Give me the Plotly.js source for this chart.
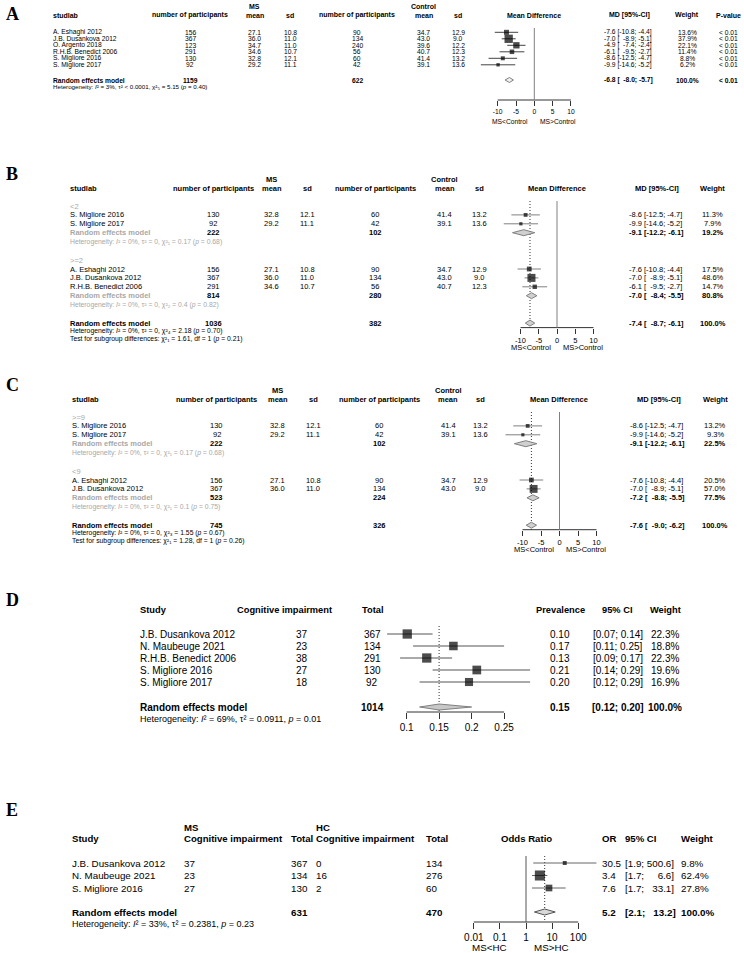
<!DOCTYPE html>
<html><head><meta charset="utf-8">
<script src="https://cdn.plot.ly/plotly-3.0.1.min.js"></script>
<style>html,body{margin:0;padding:0;background:#fff;}#chart{width:744px;height:953px;}</style>
</head><body><div id="chart"></div>
<script>
// ================= DATA =================
// ---- Panel A ----
const aStudy = ["A. Eshaghi 2012","J.B. Dusankova 2012","O. Argento 2018","R.H.B. Benedict 2006","S. Migliore 2016","S. Migliore 2017"];
const aMsN = [156,367,123,291,130,92];
const aMsMean = [27.1,36.0,34.7,34.6,32.8,29.2];
const aMsSd = [10.8,11.0,11.0,10.7,12.1,11.1];
const aCtN = [90,134,240,56,60,42];
const aCtMean = [34.7,43.0,39.6,40.7,41.4,39.1];
const aCtSd = [12.9,9.0,12.2,12.3,13.2,13.6];
const aMd = [-7.6,-7.0,-4.9,-6.1,-8.6,-9.9];
const aLo = [-10.8,-8.9,-7.4,-9.5,-12.5,-14.6];
const aHi = [-4.4,-5.1,-2.4,-2.7,-4.7,-5.2];
const aWeight = [13.6,37.9,22.1,11.4,8.8,6.2];
const aPval = ["< 0.01","< 0.01","< 0.01","< 0.01","< 0.01","< 0.01"];
const aPoolN = [1159,622];
const aPool = [-6.8,-8.0,-5.7];
const aPoolW = 100.0;
const aPoolP = "< 0.01";
const aHet = "Heterogeneity: <i>I</i>² = 3%, τ² &lt; 0.0001, χ²₅ = 5.15 (<i>p</i> = 0.40)";

// ---- Panel B ----
const bGroup = ["<2", ">=2"];
const b1Study = ["S. Migliore 2016","S. Migliore 2017"];
const b1MsN = [130,92], b1MsMean = [32.8,29.2], b1MsSd = [12.1,11.1];
const b1CtN = [60,42], b1CtMean = [41.4,39.1], b1CtSd = [13.2,13.6];
const b1Md = [-8.6,-9.9], b1Lo = [-12.5,-14.6], b1Hi = [-4.7,-5.2], b1Weight = [11.3,7.9];
const b1PoolN = [222,102], b1Pool = [-9.1,-12.2,-6.1], b1PoolW = 19.2;
const b1Het = "Heterogeneity: <i>I</i>² = 0%, τ² = 0, χ²₁ = 0.17 (<i>p</i> = 0.68)";
const b2Study = ["A. Eshaghi 2012","J.B. Dusankova 2012","R.H.B. Benedict 2006"];
const b2MsN = [156,367,291], b2MsMean = [27.1,36.0,34.6], b2MsSd = [10.8,11.0,10.7];
const b2CtN = [90,134,56], b2CtMean = [34.7,43.0,40.7], b2CtSd = [12.9,9.0,12.3];
const b2Md = [-7.6,-7.0,-6.1], b2Lo = [-10.8,-8.9,-9.5], b2Hi = [-4.4,-5.1,-2.7], b2Weight = [17.5,48.6,14.7];
const b2PoolN = [814,280], b2Pool = [-7.0,-8.4,-5.5], b2PoolW = 80.8;
const b2Het = "Heterogeneity: <i>I</i>² = 0%, τ² = 0, χ²₂ = 0.4 (<i>p</i> = 0.82)";
const bPoolN = [1036,382], bPool = [-7.4,-8.7,-6.1], bPoolW = 100.0;
const bHet = "Heterogeneity: <i>I</i>² = 0%, τ² = 0, χ²₄ = 2.18 (<i>p</i> = 0.70)";
const bTest = "Test for subgroup differences: χ²₁ = 1.61, df = 1 (<i>p</i> = 0.21)";

// ---- Panel C ----
const cGroup = [">=9", "<9"];
const c1Study = ["S. Migliore 2016","S. Migliore 2017"];
const c1MsN = [130,92], c1MsMean = [32.8,29.2], c1MsSd = [12.1,11.1];
const c1CtN = [60,42], c1CtMean = [41.4,39.1], c1CtSd = [13.2,13.6];
const c1Md = [-8.6,-9.9], c1Lo = [-12.5,-14.6], c1Hi = [-4.7,-5.2], c1Weight = [13.2,9.3];
const c1PoolN = [222,102], c1Pool = [-9.1,-12.2,-6.1], c1PoolW = 22.5;
const c1Het = "Heterogeneity: <i>I</i>² = 0%, τ² = 0, χ²₁ = 0.17 (<i>p</i> = 0.68)";
const c2Study = ["A. Eshaghi 2012","J.B. Dusankova 2012"];
const c2MsN = [156,367], c2MsMean = [27.1,36.0], c2MsSd = [10.8,11.0];
const c2CtN = [90,134], c2CtMean = [34.7,43.0], c2CtSd = [12.9,9.0];
const c2Md = [-7.6,-7.0], c2Lo = [-10.8,-8.9], c2Hi = [-4.4,-5.1], c2Weight = [20.5,57.0];
const c2PoolN = [523,224], c2Pool = [-7.2,-8.8,-5.5], c2PoolW = 77.5;
const c2Het = "Heterogeneity: <i>I</i>² = 0%, τ² = 0, χ²₁ = 0.1 (<i>p</i> = 0.75)";
const cPoolN = [745,326], cPool = [-7.6,-9.0,-6.2], cPoolW = 100.0;
const cHet = "Heterogeneity: <i>I</i>² = 0%, τ² = 0, χ²₃ = 1.55 (<i>p</i> = 0.67)";
const cTest = "Test for subgroup differences: χ²₁ = 1.28, df = 1 (<i>p</i> = 0.26)";

// ---- Panel D ----
const dStudy = ["J.B. Dusankova 2012","N. Maubeuge 2021","R.H.B. Benedict 2006","S. Migliore 2016","S. Migliore 2017"];
const dEvents = [37,23,38,27,18];
const dTotal = [367,134,291,130,92];
const dPrev = [0.101,0.172,0.131,0.208,0.196];
const dLo = [0.07,0.11,0.09,0.14,0.12];
const dHi = [0.14,0.25,0.17,0.29,0.29];
const dWeight = [22.3,18.8,22.3,19.6,16.9];
const dPoolTotal = 1014;
const dPool = [0.15,0.12,0.20];
const dHet = "Heterogeneity: <i>I</i>² = 69%, τ² = 0.0911, <i>p</i> = 0.01";

// ---- Panel E ----
const eStudy = ["J.B. Dusankova 2012","N. Maubeuge 2021","S. Migliore 2016"];
const eMsEvents = [37,23,27];
const eMsTotal = [367,134,130];
const eHcEvents = [0,16,2];
const eHcTotal = [134,276,60];
const eOr = [30.5,3.4,7.6];
const eLo = [1.9,1.7,1.7];
const eHi = [500.6,6.6,33.1];
const eWeight = [9.8,62.4,27.8];
const ePoolTotal = [631,470];
const ePool = [5.2,2.1,13.2];
const eHet = "Heterogeneity: <i>I</i>² = 33%, τ² = 0.2381, <i>p</i> = 0.23";

// ---- axis ticks ----
const mdTicks = [-10,-5,0,5,10];
const mdTickText = ["-10","-5","0","5","10"];
const prevTicks = [0.1,0.15,0.2,0.25];
const prevTickText = ["0.1","0.15","0.2","0.25"];
const orTicks = [0.01,0.1,1,10,100];
const orTickText = ["0.01","0.1","1","10","100"];

// ================= HELPERS =================
const W = 744, H = 953;
const FONT = 'Liberation Sans, Arial, sans-serif';
const SERIF = 'Liberation Serif, Times New Roman, serif';
const GRAY = '#a8a8a8';
const ann = [], lines = [], marks = [];
const layout = {
  width: W, height: H, margin: {l:0, r:0, t:0, b:0},
  paper_bgcolor: '#ffffff', plot_bgcolor: 'rgba(0,0,0,0)', showlegend: false, hovermode: false,
  yaxis: {domain:[0,1], range:[H,0], autorange:false, visible:false, fixedrange:true},
  annotations: ann
};
function esc(s){ return String(s).replace(/</g,'&lt;').replace(/>/g,'&gt;'); }
function B(s){ return '<b>'+s+'</b>'; }
function f1(v){ return v.toFixed(1); }
function f2(v){ return v.toFixed(2); }
function padL(s,n){ return '\u00a0\u00a0'.repeat(Math.max(0,n-s.length)) + s; }
function T(x, y, text, size, anchor, color, family){
  ann.push({xref:'paper', yref:'y', x:x/W, y:y, text:String(text), showarrow:false,
    xanchor:anchor||'left', yanchor:'middle', borderpad:0, borderwidth:0,
    font:{family:family||FONT, size:size, color:color||'#000'}});
}
function panelLabel(ch, y){ T(6, y, B(ch), 18, 'left', '#000', SERIF); }
function axId(n){ return n===1 ? 'x' : 'x'+n; }
function setAxis(n, px0, px1, r0, r1, axisY, ticks, tickText, fs, tlen, type){
  layout[n===1?'xaxis':'xaxis'+n] = {domain:[px0/W, px1/W], range:[r0,r1], type:type||'linear',
    anchor:'free', position:1-axisY/H, showgrid:false, zeroline:false, showline:false,
    ticks:'outside', ticklen:tlen, tickwidth:1, tickcolor:'#333', tickmode:'array',
    tickvals:ticks, ticktext:tickText, tickfont:{family:FONT, size:fs, color:'#000'}, fixedrange:true};
  lines.push({type:'scatter', mode:'lines', x:[ticks[0], ticks[ticks.length-1]], y:[axisY,axisY],
    xaxis:axId(n), yaxis:'y', line:{color:'#333', width:1}, hoverinfo:'skip'});
}
function vline(n, x, y0, y1, color, dash){
  lines.push({type:'scatter', mode:'lines', x:[x,x], y:[y0,y1], xaxis:axId(n), yaxis:'y',
    line:{color:color, width:1, dash:dash||'solid'}, hoverinfo:'skip'});
}
function addCI(n, ys, lo, hi, col){
  const xs=[], yy=[];
  ys.forEach((y,i)=>{ xs.push(lo[i],hi[i],null); yy.push(y,y,null); });
  marks.push({type:'scatter', mode:'lines', x:xs, y:yy, xaxis:axId(n), yaxis:'y',
    line:{color:col, width:1}, hoverinfo:'skip'});
}
function addSquares(n, ys, est, w, k){
  marks.push({type:'scatter', mode:'markers', x:est, y:ys, xaxis:axId(n), yaxis:'y', cliponaxis:false,
    marker:{symbol:'square', size:w.map(v=>k*Math.sqrt(v)), color:'#000', line:{width:0}}, hoverinfo:'skip'});
}
function addDiamond(n, y, pool, h, fill, stroke){
  marks.push({type:'scatter', mode:'lines', x:[pool[1],pool[0],pool[2],pool[0],pool[1]],
    y:[y,y-h,y,y+h,y], fill:'toself', fillcolor:fill, xaxis:axId(n), yaxis:'y',
    line:{color:stroke, width:1}, hoverinfo:'skip'});
}
function ciText(e, lo, hi){ return f1(e)+' ['+padL(f1(lo),5)+'; '+padL(f1(hi),4)+']'; }

// ---- mean-difference table pieces ----
function mdHeader(c, yTop, yHdr, withP){
  const s=c.hs;
  T(c.xMsMean, yTop, B('MS'), s, 'center');
  T(c.xCtMean, yTop, B('Control'), s, 'center');
  T(c.xName, yHdr, B('studlab'), s);
  T(c.xMsN, yHdr, B('number of participants'), s, 'center');
  T(c.xMsMean, yHdr, B('mean'), s, 'center');
  T(c.xMsSd, yHdr, B('sd'), s, 'center');
  T(c.xCtN, yHdr, B('number of participants'), s, 'center');
  T(c.xCtMean, yHdr, B('mean'), s, 'center');
  T(c.xCtSd, yHdr, B('sd'), s, 'center');
  T(c.xMdHdr, yHdr, B('Mean Difference'), s, 'center');
  T(c.xCiHdr, yHdr, B('MD [95%-CI]'), s, 'center');
  T(c.xW, yHdr, B('Weight'), s, 'center');
  if(withP) T(c.xP, yHdr, B('P-value'), s, 'center');
}
function mdBlock(c, ys, d){
  const fs=c.fs;
  d.study.forEach((s,i)=>{
    const y=ys[i];
    T(c.xName, y, s, fs);
    T(c.xMsN, y, d.msN[i], fs, 'center');
    T(c.xMsMean, y, f1(d.msMean[i]), fs, 'center');
    T(c.xMsSd, y, f1(d.msSd[i]), fs, 'center');
    T(c.xCtN, y, d.ctN[i], fs, 'center');
    T(c.xCtMean, y, f1(d.ctMean[i]), fs, 'center');
    T(c.xCtSd, y, f1(d.ctSd[i]), fs, 'center');
    T(c.xMd, y, ciText(d.md[i], d.lo[i], d.hi[i]), fs);
    T(c.xW, y, f1(d.w[i])+'%', fs, 'center');
    if(d.p) T(c.xP, y, esc(d.p[i]), fs, 'center');
  });
  addCI(c.ax, ys, d.lo, d.hi, c.ciCol);
  addSquares(c.ax, ys, d.md, d.w, c.k);
}
function mdPool(c, y, n, pool, w, labelColor, p){
  const fs=c.fs;
  T(c.xName, y, B('Random effects model'), fs, 'left', labelColor);
  T(c.xMsN, y, B(n[0]), fs, 'center');
  T(c.xCtN, y, B(n[1]), fs, 'center');
  T(c.xMd, y, B(ciText(pool[0], pool[1], pool[2])), fs);
  T(c.xW, y, B(f1(w)+'%'), fs, 'center');
  if(p) T(c.xP, y, B(esc(p)), fs, 'center');
  addDiamond(c.ax, y, pool, c.dh, c.dFill, c.dLine);
}
function subgroupPanel(c, y0, groups, ov){
  let y=y0;
  groups.forEach(g=>{
    T(c.xName, y, esc(g.label), c.fs, 'left', GRAY);
    const ys=g.d.study.map((_,i)=>y+c.step*(i+1));
    mdBlock(c, ys, g.d);
    y=ys[ys.length-1]+c.step;
    mdPool(c, y, g.n, g.pool, g.w, GRAY);
    y+=c.step;
    T(c.xName, y, g.het, c.hfs, 'left', GRAY);
    y+=c.gap;
  });
  mdPool(c, y, ov.n, ov.pool, ov.w, '#000');
  T(c.xName, y+8, ov.het, c.hfs);
  T(c.xName, y+15.5, ov.test, c.hfs);
  return y;
}
function ctrlLabels(zeroPx, y, fs){
  T(zeroPx-6, y, 'MS&lt;Control', fs, 'right');
  T(zeroPx+6, y, 'MS&gt;Control', fs, 'left');
}

// ================= PANEL A =================
(function(){
  const c = {ax:1, fs:6.7, hs:7, hfs:6.2, xName:53, xMsN:190, xMsMean:255, xMsSd:290, xCtN:357,
    xCtMean:423.7, xCtSd:458, xMdHdr:534.3, xCiHdr:629, xMd:604.3, xW:687, xP:728,
    k:1.35, ciCol:'#444', dh:2.5, dFill:'#f0f0f0', dLine:'#808080'};
  const zero=534.3, sc=3.66, axisY=100;
  setAxis(1, 470, 600, (470-zero)/sc, (600-zero)/sc, axisY, mdTicks, mdTickText, 6.7, 5);
  panelLabel('A', 14);
  mdHeader(c, 6, 15, true);
  const ys = aStudy.map((_,i)=>32.3+6.5*i);
  vline(1, 0, 28, axisY, '#808080');
  mdBlock(c, ys, {study:aStudy, msN:aMsN, msMean:aMsMean, msSd:aMsSd, ctN:aCtN, ctMean:aCtMean,
    ctSd:aCtSd, md:aMd, lo:aLo, hi:aHi, w:aWeight, p:aPval});
  mdPool(c, 80, aPoolN, aPool, aPoolW, '#000', aPoolP);
  T(c.xName, 86.5, aHet, c.hfs);
  ctrlLabels(zero, 121.5, 6.7);
})();

// ================= PANEL B =================
(function(){
  const c = {ax:2, fs:7.5, hs:7.5, hfs:6.8, xName:70, xMsN:213.3, xMsMean:271.7, xMsSd:307.3, xCtN:375,
    xCtMean:444.7, xCtSd:479.3, xMdHdr:557, xCiHdr:657, xMd:628.7, xW:712.7,
    k:1.15, ciCol:'#808080', dh:3, dFill:'#d0d0d0', dLine:'#808080', step:8.9, gap:18.5};
  const zero=557, sc=3.65;
  panelLabel('B', 174);
  mdHeader(c, 179, 188.5, false);
  const yOv = subgroupPanel(c, 206, [
    {label:bGroup[0], d:{study:b1Study, msN:b1MsN, msMean:b1MsMean, msSd:b1MsSd, ctN:b1CtN, ctMean:b1CtMean,
      ctSd:b1CtSd, md:b1Md, lo:b1Lo, hi:b1Hi, w:b1Weight}, n:b1PoolN, pool:b1Pool, w:b1PoolW, het:b1Het},
    {label:bGroup[1], d:{study:b2Study, msN:b2MsN, msMean:b2MsMean, msSd:b2MsSd, ctN:b2CtN, ctMean:b2CtMean,
      ctSd:b2CtSd, md:b2Md, lo:b2Lo, hi:b2Hi, w:b2Weight}, n:b2PoolN, pool:b2Pool, w:b2PoolW, het:b2Het}
  ], {n:bPoolN, pool:bPool, w:bPoolW, het:bHet, test:bTest});
  const axisY = yOv+4.5;
  setAxis(2, 490, 620, (490-zero)/sc, (620-zero)/sc, axisY, mdTicks, mdTickText, 7.5, 5);
  vline(2, 0, 201, axisY, '#808080');
  vline(2, bPool[0], 201, axisY, '#333', '1px,2px');
  ctrlLabels(zero, axisY+20, 7.5);
})();

// ================= PANEL C =================
(function(){
  const c = {ax:3, fs:7.5, hs:7.5, hfs:6.8, xName:71.7, xMsN:216.7, xMsMean:277.7, xMsSd:313.3, xCtN:379,
    xCtMean:448, xCtSd:480, xMdHdr:559, xCiHdr:659, xMd:630.3, xW:715,
    k:1.05, ciCol:'#808080', dh:3, dFill:'#d0d0d0', dLine:'#808080', step:8.9, gap:18.5};
  const zero=559.5, sc=3.7;
  panelLabel('C', 385);
  mdHeader(c, 390, 399.5, false);
  const yOv = subgroupPanel(c, 417, [
    {label:cGroup[0], d:{study:c1Study, msN:c1MsN, msMean:c1MsMean, msSd:c1MsSd, ctN:c1CtN, ctMean:c1CtMean,
      ctSd:c1CtSd, md:c1Md, lo:c1Lo, hi:c1Hi, w:c1Weight}, n:c1PoolN, pool:c1Pool, w:c1PoolW, het:c1Het},
    {label:cGroup[1], d:{study:c2Study, msN:c2MsN, msMean:c2MsMean, msSd:c2MsSd, ctN:c2CtN, ctMean:c2CtMean,
      ctSd:c2CtSd, md:c2Md, lo:c2Lo, hi:c2Hi, w:c2Weight}, n:c2PoolN, pool:c2Pool, w:c2PoolW, het:c2Het}
  ], {n:cPoolN, pool:cPool, w:cPoolW, het:cHet, test:cTest});
  const axisY = yOv+4.5;
  setAxis(3, 490, 625, (490-zero)/sc, (625-zero)/sc, axisY, mdTicks, mdTickText, 7.5, 5);
  vline(3, 0, 412, axisY, '#808080');
  vline(3, cPool[0], 412, axisY, '#333', '1px,2px');
  ctrlLabels(zero, axisY+20, 7.5);
})();

// ================= PANEL D =================
(function(){
  const fs=10, hs=9.3, ax=4;
  const p0=406.6, sc=650, axisY=712;
  setAxis(ax, 380, 545, 0.1+(380-p0)/sc, 0.1+(545-p0)/sc, axisY, prevTicks, prevTickText, 10, 6);
  panelLabel('D', 600);
  const yH=610;
  T(140, yH, B('Study'), hs);
  T(284, yH, B('Cognitive impairment'), hs, 'center');
  T(373, yH, B('Total'), hs, 'center');
  T(560.3, yH, B('Prevalence'), hs, 'center');
  T(617, yH, B('95% CI'), hs, 'center');
  T(665, yH, B('Weight'), hs, 'center');
  const ys = dStudy.map((_,i)=>634+12*i);
  dStudy.forEach((s,i)=>{
    const y=ys[i];
    T(140, y, s, fs);
    T(302, y, dEvents[i], fs, 'center');
    T(372, y, dTotal[i], fs, 'center');
    T(560, y, f2(dPrev[i]), fs, 'center');
    T(618, y, '['+f2(dLo[i])+'; '+f2(dHi[i])+']', fs, 'center');
    T(664.5, y, f1(dWeight[i])+'%', fs, 'center');
  });
  vline(ax, dPool[0], 626, axisY, '#333', '1px,2px');
  addCI(ax, ys, dLo, dHi, '#555');
  addSquares(ax, ys, dPrev, dWeight, 1.97);
  const yR=707;
  T(140, yR, B('Random effects model'), fs);
  T(372, yR, B(dPoolTotal), fs, 'center');
  T(560, yR, B(f2(dPool[0])), fs, 'center');
  T(618, yR, B('['+f2(dPool[1])+'; '+f2(dPool[2])+']'), fs, 'center');
  T(664.5, yR, B('100.0%'), fs, 'center');
  addDiamond(ax, yR, dPool, 3, '#c8c8c8', '#808080');
  T(140, 718.5, dHet, 9);
})();

// ================= PANEL E =================
(function(){
  const fs=9.8, hs=9.6, ax=5;
  const one=526, dec=26.1, axisY=922;
  const xSt=71.7, xMsE=184.3, xMsT=291, xHcE=316, xHcT=426.3;
  setAxis(ax, 455, 615, (455-one)/dec, (615-one)/dec, axisY, orTicks, orTickText, 10, 6, 'log');
  panelLabel('E', 810);
  T(xMsE, 827, B('MS'), hs);
  T(xHcE, 827, B('HC'), hs);
  const yH=838.5;
  T(xSt, yH, B('Study'), hs);
  T(xMsE, yH, B('Cognitive impairment'), hs);
  T(xMsT, yH, B('Total'), hs);
  T(xHcE, yH, B('Cognitive impairment'), hs);
  T(xHcT, yH, B('Total'), hs);
  T(526, yH, B('Odds Ratio'), hs, 'center');
  T(602, yH, B('OR'), hs);
  T(625.3, yH, B('95% CI'), hs);
  T(681.3, yH, B('Weight'), hs);
  const ys = eStudy.map((_,i)=>863+12.5*i);
  eStudy.forEach((s,i)=>{
    const y=ys[i];
    T(xSt, y, s, fs);
    T(xMsE, y, eMsEvents[i], fs);
    T(xMsT, y, eMsTotal[i], fs);
    T(xHcE, y, eHcEvents[i], fs);
    T(xHcT, y, eHcTotal[i], fs);
    T(602, y, f1(eOr[i]), fs);
    T(625.3, y, '['+f1(eLo[i])+'; '+padL(f1(eHi[i]),5)+']', fs);
    T(681.3, y, f1(eWeight[i])+'%', fs);
  });
  vline(ax, 1, 856, axisY, '#555');
  vline(ax, ePool[0], 856, axisY, '#333', '1px,2px');
  addCI(ax, ys, eLo, eHi, '#666');
  addSquares(ax, ys, eOr, eWeight, 1.27);
  const yR=912;
  T(xSt, yR, B('Random effects model'), fs);
  T(xMsT, yR, B(ePoolTotal[0]), fs);
  T(xHcT, yR, B(ePoolTotal[1]), fs);
  T(602, yR, B(f1(ePool[0])), fs);
  T(625.3, yR, B('['+f1(ePool[1])+'; '+padL(f1(ePool[2]),5)+']'), fs);
  T(681.3, yR, B('100.0%'), fs);
  addDiamond(ax, yR, ePool, 3, '#d8d8d8', '#555');
  T(xSt, 923.5, eHet, 9);
  T(489, 947, 'MS&lt;HC', 9.8, 'center');
  T(551, 947, 'MS&gt;HC', 9.8, 'center');
})();

Plotly.newPlot('chart', lines.concat(marks), layout, {staticPlot:true, displayModeBar:false});
</script>
</body></html>
